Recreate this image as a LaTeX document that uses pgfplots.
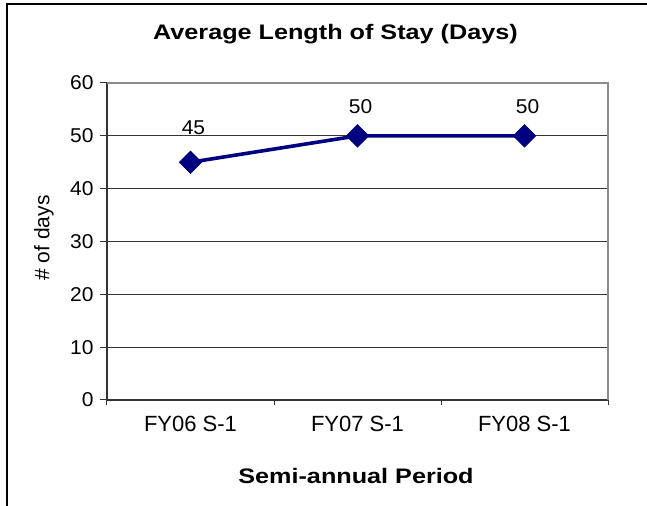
\documentclass[border=0pt]{standalone}
\usepackage{fontspec}
\setmainfont{Liberation Sans}
\newfontfamily\titlefont[FakeStretch=1.2]{Liberation Sans}
\newfontfamily\numfont[FakeStretch=1.05]{Liberation Sans}
\usepackage{pgfplots}
\usepackage{pgfplotstable}
\pgfplotsset{compat=1.18}
\definecolor{navyline}{RGB}{0,0,128}
\pgfplotstableread{
x y off
1 45 24
2 50 18
3 50 18
}\losdata
\begin{document}
\begin{tikzpicture}[x=1bp,y=1bp]
\path[use as bounding box] (-107,-106) rectangle (540,400);
\draw[black, line width=1.3bp] (-100,-106) -- (-100,396) -- (540,396);
\begin{axis}[
  at={(0,0)}, anchor=south west,
  width=501bp, height=317bp, scale only axis,
  xmin=0.5, xmax=3.5, ymin=0, ymax=60,
  axis x line*=bottom, axis y line*=left,
  axis line style={black!80, line width=1.2bp},
  ytick={0,10,...,60},
  xtick={1,2,3},
  xticklabels={FY06 S-1, FY07 S-1, FY08 S-1},
  extra x ticks={0.5,1.5,2.5,3.5},
  extra x tick labels={},
  extra x tick style={major tick length=5bp, xtick style={draw=black!80, line width=1bp}},
  xtick style={draw=none},
  ytick style={draw=black!80, line width=1bp},
  tick align=outside,
  major tick length=7bp,
  /pgf/number format/assume math mode=true,
  ymajorgrids,
  grid style={black!80, line width=0.9bp},
  yticklabel style={font=\numfont\fontsize{20bp}{24bp}\selectfont, xshift=-3bp},
  xticklabel style={font=\fontsize{22bp}{26bp}\selectfont, yshift=-6bp},
  title={Average Length of Stay (Days)},
  title style={font=\titlefont\bfseries\fontsize{21bp}{25bp}\selectfont, at={(axis description cs:0.456,1.136)}, anchor=center},
  xlabel={Semi-annual Period},
  xlabel style={font=\titlefont\bfseries\fontsize{21bp}{25bp}\selectfont, at={(axis description cs:0.497,-0.24)}, anchor=center},
  ylabel={\# of days},
  ylabel style={font=\fontsize{21bp}{25bp}\selectfont, at={(axis description cs:-0.1257,0.511)}, anchor=center, rotate=0},
  clip=false,
]
\draw[black!45, line width=1.2bp] (rel axis cs:0,1) -- (rel axis cs:1,1) -- (rel axis cs:1,0);
\addplot[navyline, line width=3.6bp, mark=square*, mark size=7.8bp,
  mark options={rotate=45, solid, fill=navyline, line width=1bp},
  visualization depends on={\thisrow{off}\as\off},
  nodes near coords,
  every node near coord/.append style={font=\numfont\fontsize{20bp}{24bp}\selectfont, black, anchor=south, yshift=\off bp, xshift=3bp},
  point meta=explicit symbolic,
] table[x=x, y=y, meta=y] {\losdata};
\end{axis}
\end{tikzpicture}
\end{document}
